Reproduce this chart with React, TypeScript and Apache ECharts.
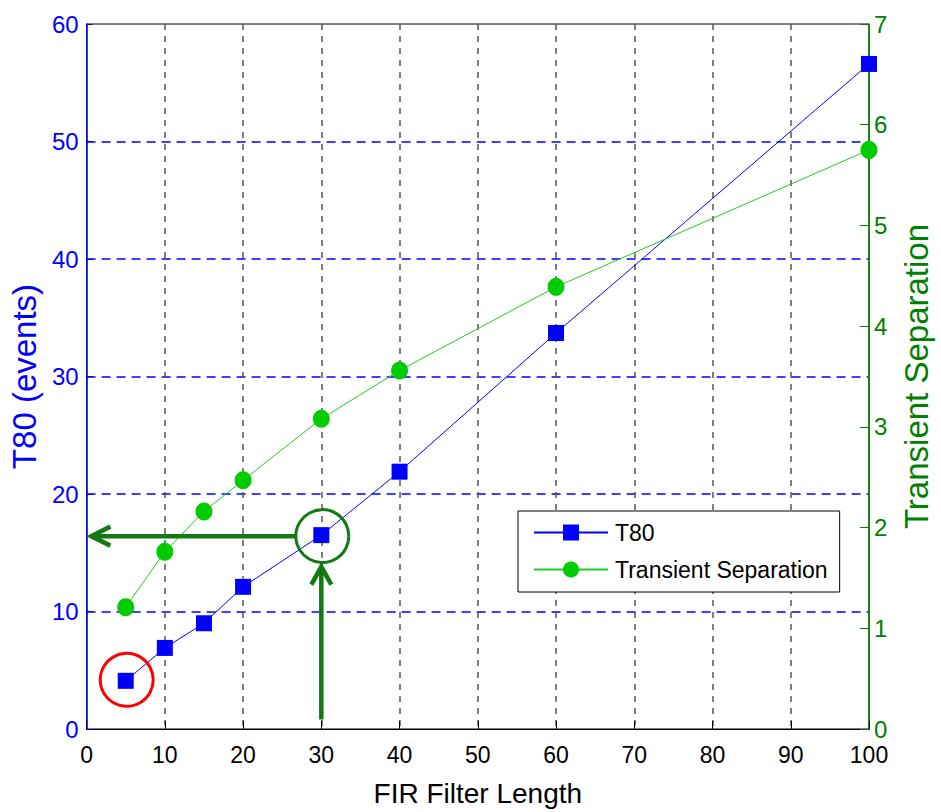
import React, { useEffect, useRef } from "react";
import * as echarts from "echarts";

const filterLengths = [5, 10, 15, 20, 30, 40, 60, 100];
const t80Values = [4.1, 6.9, 9.0, 12.1, 16.5, 21.9, 33.7, 56.6];
const separationValues = [1.21, 1.76, 2.16, 2.47, 3.08, 3.56, 4.39, 5.75];
const seriesNames = ["T80", "Transient Separation"];
const axisTitles = { x: "FIR Filter Length", left: "T80 (events)", right: "Transient Separation" };
const redMarkIndex = 0;
const greenMarkIndex = 4;

const FONT = "Liberation Sans, Arial, Helvetica, sans-serif";
const BLUE = "#0000ff";
const DARK_GREEN = "#008000";
const ARROW_GREEN = "#117a11";

export default function App() {
  const ref = useRef<HTMLDivElement>(null);
  useEffect(() => {
    document.body.style.margin = "0";
    if (!ref.current) return;
    const chart = echarts.init(ref.current, null, { renderer: "svg" });

    const annotationData = [
      [filterLengths[redMarkIndex], t80Values[redMarkIndex], 0],
      [filterLengths[greenMarkIndex], t80Values[greenMarkIndex], 1],
    ];

    const renderAnnotation = (params: any, api: any) => {
      const kind = api.value(2);
      const p = api.coord([api.value(0), api.value(1)]);
      const r = 26.5;
      if (kind === 0) {
        return {
          type: "circle",
          shape: { cx: p[0] + 1, cy: p[1] - 1, r },
          style: { fill: "none", stroke: "#ff0000", lineWidth: 3 },
        };
      }
      const leftEnd = api.coord([0.6, 0])[0];
      const bottomEnd = api.coord([0, 0.8])[1];
      const hy = p[1] + 1;
      const vTip = p[1] + r + 5;
      const arrowStyle = { stroke: ARROW_GREEN, lineWidth: 4.5, fill: "none", lineCap: "butt", lineJoin: "miter" };
      return {
        type: "group",
        children: [
          { type: "circle", shape: { cx: p[0] + 1, cy: p[1] + 1, r }, style: { fill: "none", stroke: ARROW_GREEN, lineWidth: 3 } },
          { type: "line", shape: { x1: p[0] + 1 - r, y1: hy, x2: leftEnd + 2, y2: hy }, style: arrowStyle },
          { type: "polyline", shape: { points: [[leftEnd + 19, hy - 9.5], [leftEnd, hy], [leftEnd + 19, hy + 9.5]] }, style: arrowStyle },
          { type: "line", shape: { x1: p[0], y1: bottomEnd, x2: p[0], y2: vTip + 2 }, style: arrowStyle },
          { type: "polyline", shape: { points: [[p[0] - 10, vTip + 18], [p[0], vTip], [p[0] + 10, vTip + 18]] }, style: arrowStyle },
        ],
      };
    };

    const option: any = {
      animation: false,
      backgroundColor: "#ffffff",
      grid: {
        left: 86, top: 24, right: 63, bottom: 79,
        show: true, borderColor: "#000", borderWidth: 1, backgroundColor: "transparent",
      },
      legend: {
        orient: "vertical",
        left: 518, top: 511,
        padding: [10, 12, 11, 15],
        itemWidth: 74, itemHeight: 20, itemGap: 14,
        backgroundColor: "#fff",
        borderColor: "#000", borderWidth: 1, borderRadius: 0,
        textStyle: { fontFamily: FONT, fontSize: 23, color: "#000", padding: [0, 0, 0, 2] },
        data: seriesNames,
      },
      xAxis: {
        type: "value", min: 0, max: 100, interval: 10,
        name: axisTitles.x, nameLocation: "middle", nameGap: 50,
        nameTextStyle: { fontFamily: FONT, fontSize: 28, color: "#000" },
        axisLine: { show: true, lineStyle: { color: "#000", width: 1 } },
        axisTick: { show: true, inside: true, length: 8, lineStyle: { color: "#000" } },
        axisLabel: { fontFamily: FONT, fontSize: 23, color: "#000", margin: 14 },
        splitLine: { show: true, showMinLine: false, showMaxLine: false, lineStyle: { color: "#555555", type: [6, 6], width: 1.5 } },
      },
      yAxis: [
        {
          type: "value", min: 0, max: 60, interval: 10, position: "left",
          name: axisTitles.left, nameLocation: "middle", nameGap: 40, nameRotate: 90,
          nameTextStyle: { fontFamily: FONT, fontSize: 33, color: BLUE },
          axisLine: { show: true, lineStyle: { color: BLUE, width: 1.5 } },
          axisTick: { show: true, inside: true, length: 6, lineStyle: { color: BLUE } },
          axisLabel: { fontFamily: FONT, fontSize: 24, color: BLUE, margin: 8 },
          splitLine: { show: true, showMinLine: false, showMaxLine: false, lineStyle: { color: BLUE, type: [9, 6], width: 1.5 } },
        },
        {
          type: "value", min: 0, max: 7, interval: 1, position: "right",
          name: axisTitles.right, nameLocation: "middle", nameGap: 31, nameRotate: 90,
          nameTextStyle: { fontFamily: FONT, fontSize: 33, color: DARK_GREEN },
          axisLine: { show: true, lineStyle: { color: DARK_GREEN, width: 1.5 } },
          axisTick: { show: true, inside: true, length: 9, lineStyle: { color: DARK_GREEN } },
          axisLabel: { fontFamily: FONT, fontSize: 24, color: DARK_GREEN, margin: 5 },
          splitLine: { show: false },
        },
      ],
      series: [
        {
          name: seriesNames[0], type: "line", yAxisIndex: 0,
          data: filterLengths.map((x, i) => [x, t80Values[i]]),
          symbol: "rect", symbolSize: 16,
          lineStyle: { color: BLUE, width: 1 },
          itemStyle: { color: BLUE },
          z: 3,
        },
        {
          name: seriesNames[1], type: "line", yAxisIndex: 1,
          data: filterLengths.map((x, i) => [x, separationValues[i]]),
          symbol: "circle", symbolSize: [17, 18],
          lineStyle: { color: "#22cc22", width: 1 },
          itemStyle: { color: "#00cc00" },
          z: 3,
        },
        {
          name: "annotations", type: "custom", xAxisIndex: 0, yAxisIndex: 0,
          data: annotationData, renderItem: renderAnnotation,
          clip: false, silent: true, z: 10,
        },
      ],
    };
    chart.setOption(option);
    return () => chart.dispose();
  }, []);
  return <div ref={ref} style={{ width: 941, height: 812 }} />;
}
